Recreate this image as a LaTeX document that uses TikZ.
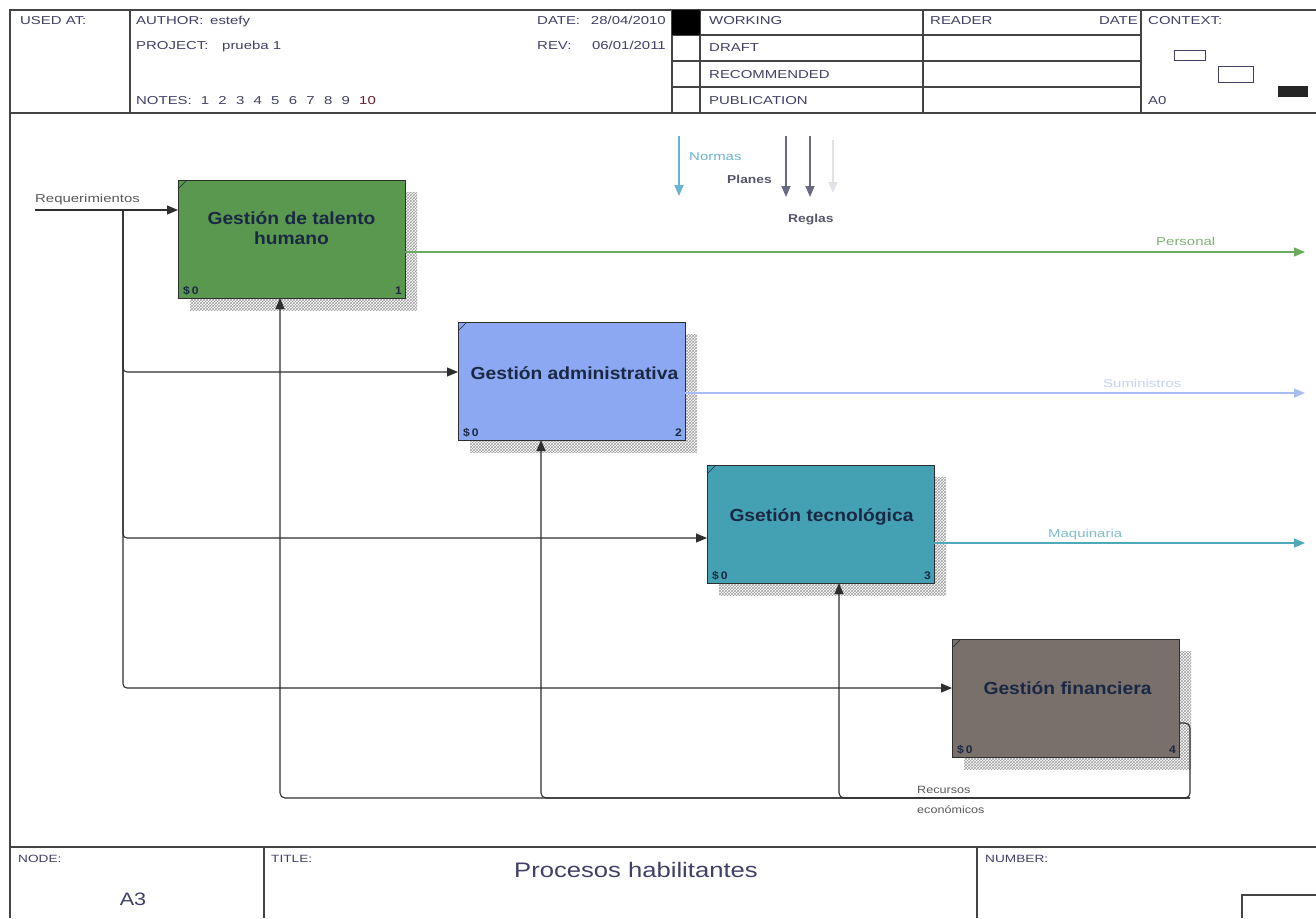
\documentclass[tikz,border=0pt]{standalone}
\usepackage{fontspec}
\usepackage{graphicx}
\setmainfont{Liberation Sans}
\usetikzlibrary{arrows.meta,patterns,shadows,calc}

\definecolor{framec}{HTML}{444444}
\definecolor{hdrc}{HTML}{403F66}
\definecolor{flowc}{HTML}{2E2E2E}
\definecolor{gbox}{HTML}{5A9850}
\definecolor{bbox}{HTML}{8DA8F2}
\definecolor{tbox}{HTML}{43A1B3}
\definecolor{mbox}{HTML}{79706B}
\definecolor{boxtxtc}{HTML}{1A2844}
\definecolor{persc}{HTML}{6AAA5E}
\definecolor{persl}{HTML}{7DB474}
\definecolor{sumc}{HTML}{A9BDF2}
\definecolor{suml}{HTML}{C6D2F4}
\definecolor{maqc}{HTML}{4EA9BA}
\definecolor{maql}{HTML}{7DBFCB}
\definecolor{normc}{HTML}{6AB4D2}
\definecolor{ctrlc}{HTML}{6A6A80}
\definecolor{ctrll}{HTML}{56566A}
\definecolor{faintc}{HTML}{E2E2E6}

% horizontally stretched text, as the sheet's fonts are set wide
\newcommand{\hst}[2][1.3]{\scalebox{#1}[1]{#2}}

\tikzset{
  frame/.style={draw=framec, line width=1.2pt},
  hdr/.style={font=\fontsize{11.5}{13}\selectfont, text=hdrc, inner sep=0pt, anchor=base west},
  ftr/.style={font=\fontsize{10.5}{12}\selectfont, text=hdrc, inner sep=0pt, anchor=base west},
  lbl/.style={font=\fontsize{11.5}{13}\selectfont, inner sep=0pt, anchor=base west},
  procbox/.style={draw=flowc, line width=0.9pt, anchor=north west, inner sep=0pt, outer sep=0pt,
    minimum width=227pt, minimum height=118pt,
    general shadow={shadow xshift=12pt, shadow yshift=-12pt, pattern=crosshatch, pattern color=gray!75}},
  boxtxt/.style={font=\fontsize{17.5}{20}\selectfont\bfseries, text=boxtxtc, inner sep=0pt, anchor=base},
  cost/.style={font=\fontsize{11}{12}\selectfont\bfseries, text=boxtxtc, inner sep=0pt, anchor=base west},
  boxnum/.style={font=\fontsize{11}{12}\selectfont\bfseries, text=boxtxtc, inner sep=0pt, anchor=base east},
  tip/.style={-{Triangle[length=11pt,width=9pt]}},
  flow/.style={tip, draw=flowc, line width=1.1pt},
  ctrl/.style={tip, line width=1.7pt},
}

\begin{document}
\begin{tikzpicture}[x=1pt, y=-1pt]
\useasboundingbox (0,0) rectangle (1316,918);

% ---------- sheet frame ----------
\draw[frame] (10,918) -- (10,10) -- (1316,10);
\draw[frame] (10,113) -- (1316,113);
\foreach \x in {130,672,700,923,1141} \draw[frame] (\x,10) -- (\x,113);
\foreach \y in {35,61,87} \draw[frame] (672,\y) -- (1141,\y);
\fill[black] (672,10) rectangle (700,35);
\draw[frame] (10,847) -- (1316,847);
\draw[frame] (264,847) -- (264,918);
\draw[frame] (977,847) -- (977,918);
\draw[frame] (1242,918) -- (1242,895) -- (1316,895);

% ---------- header texts ----------
\node[hdr] (usedat) at (20,24) {\hst{USED AT:}};
\node[hdr] (author) at (136,24) {\hst{AUTHOR:}};
\node[hdr] (authorv) at (210,24) {\hst{estefy}};
\node[hdr] (project) at (136,49) {\hst{PROJECT:}};
\node[hdr] (projectv) at (222,49) {\hst{prueba 1}};
\node[hdr] (notes) at (136,104) {\hst{NOTES:}};
\foreach \n [count=\i] in {1,2,3,4,5,6,7,8,9}
  \node[hdr] (note\n) at ({183+17.6*\i},104) {\hst{\n}};
\node[hdr, text=hdrc!60!red!70!black] (note10) at (359,104) {\hst{10}};
\node[hdr] (date) at (537,24) {\hst{DATE:}};
\node[hdr, anchor=base east] (datev) at (666,24) {\hst{28/04/2010}};
\node[hdr] (rev) at (537,49) {\hst{REV:}};
\node[hdr, anchor=base east] (revv) at (666,49) {\hst{06/01/2011}};
\node[hdr] (working) at (709,24) {\hst{WORKING}};
\node[hdr] (draft) at (709,51) {\hst{DRAFT}};
\node[hdr] (recommended) at (709,78) {\hst{RECOMMENDED}};
\node[hdr] (publication) at (709,104) {\hst{PUBLICATION}};
\node[hdr] (reader) at (930,24) {\hst{READER}};
\node[hdr, anchor=base east] (rdate) at (1138,24) {\hst{DATE}};
\node[hdr] (context) at (1148,24) {\hst{CONTEXT:}};
\node[hdr] (azero) at (1148,104) {\hst{A0}};
\draw[draw=hdrc, line width=1pt] (1174,50) rectangle (1205,60);
\draw[draw=hdrc, line width=1pt] (1218,66) rectangle (1253,82);
\fill[black!85] (1278,86) rectangle (1308,97);

% ---------- footer texts ----------
\node[ftr] (nodelbl) at (18,862) {\hst{NODE:}};
\node[font=\fontsize{18}{20}\selectfont, text=hdrc, inner sep=0pt, anchor=base] (nodev) at (133,905) {\hst[1.2]{A3}};
\node[ftr] (titlelbl) at (271,862) {\hst{TITLE:}};
\node[font=\fontsize{21}{24}\selectfont, text=hdrc, inner sep=0pt, anchor=base] (title) at (636,877) {\hst[1.22]{Procesos habilitantes}};
\node[ftr] (numberlbl) at (985,862) {\hst{NUMBER:}};

% ---------- activity boxes ----------
\node[procbox, fill=gbox] (b1) at (178,180) {};
\node[procbox, fill=bbox] (b2) at (458,322) {};
\node[procbox, fill=tbox] (b3) at (707,465) {};
\node[procbox, fill=mbox] (b4) at (952,639) {};

\foreach \b/\n in {b1/1,b2/2,b3/3,b4/4}{
  \draw[boxtxtc, line width=0.6pt] ($(\b.north west)+(1,8)$) -- ($(\b.north west)+(8,1)$);
  \node[cost] at ($(\b.south west)+(5,-4)$) {\hst[1.1]{\$\,0}};
  \node[boxnum] at ($(\b.south east)+(-3,-4)$) {\hst[1.1]{\n}};
}
\node[boxtxt] (t1a) at ($(b1.north)+(0,44)$) {\hst[1.1]{Gestión de talento}};
\node[boxtxt] (t1b) at ($(b1.north)+(0,64)$) {\hst[1.1]{humano}};
\node[boxtxt] (t2) at ($(b2.north)+(3,57)$) {\hst[1.1]{Gestión administrativa}};
\node[boxtxt] (t3) at ($(b3.north)+(1,56)$) {\hst[1.1]{Gsetión tecnológica}};
\node[boxtxt] (t4) at ($(b4.north)+(2,55)$) {\hst[1.1]{Gestión financiera}};

% ---------- inputs ----------
\coordinate (reqstart) at (35,210);
\coordinate (split) at (123,210);
\draw[flow] (reqstart) -- (reqstart -| b1.west);
\draw[flow, rounded corners=4pt] (split) |- ($(b2.north west)+(0,50)$);
\draw[flow, rounded corners=4pt] (split) |- ($(b3.north west)+(0,73)$);
\draw[flow, rounded corners=4pt] (split) |- ($(b4.north west)+(0,49)$);
\node[lbl, text=flowc!80] (reqlbl) at (35,202) {\hst{Requerimientos}};

% ---------- outputs ----------
\coordinate (redge) at (1305,0);
\coordinate (o1) at ($(b1.north east)+(0,72)$);
\coordinate (o2) at ($(b2.north east)+(0,71)$);
\coordinate (o3) at ($(b3.north east)+(0,78)$);
\draw[tip, draw=persc, line width=1.1pt] (o1) -- (o1 -| redge);
\draw[tip, draw=sumc, line width=1.1pt] (o2) -- (o2 -| redge);
\draw[tip, draw=maqc, line width=1.1pt] (o3) -- (o3 -| redge);
\node[lbl, text=persl] (perslbl) at (1156,245) {\hst{Personal}};
\node[lbl, text=suml] (sumlbl) at (1103,387) {\hst{Suministros}};
\node[lbl, text=maql] (maqlbl) at (1048,537) {\hst{Maquinaria}};

% ---------- feedback of economic resources ----------
\coordinate (o4) at ($(b4.north east)+(0,84)$);
\coordinate (loopR) at (1190,798);
\draw[flow, rounded corners=5pt] (o4) -| (loopR) -| ($(b1.south west)+(102,0)$);
\draw[flow, rounded corners=5pt] (loopR) -| ($(b2.south west)+(83,0)$);
\draw[flow, rounded corners=5pt] (loopR) -| ($(b3.south west)+(132,0)$);
\node[font=\fontsize{10.5}{12}\selectfont, text=flowc!80, inner sep=0pt, anchor=base west] (rec1) at (917,793) {\hst[1.2]{Recursos}};
\node[font=\fontsize{10.5}{12}\selectfont, text=flowc!80, inner sep=0pt, anchor=base west] (rec2) at (917,813) {\hst[1.2]{económicos}};

% ---------- controls ----------
\coordinate (c1s) at (679,136); \coordinate (c1e) at (679,196);
\coordinate (c2s) at (786,136); \coordinate (c2e) at (786,197);
\coordinate (c3s) at (810,136); \coordinate (c3e) at (810,197);
\coordinate (c4s) at (833,140); \coordinate (c4e) at (833,193);
\draw[ctrl, draw=normc] (c1s) -- (c1e);
\draw[ctrl, draw=ctrlc] (c2s) -- (c2e);
\draw[ctrl, draw=ctrlc] (c3s) -- (c3e);
\draw[ctrl, draw=faintc] (c4s) -- (c4e);
\node[lbl, text=normc] (normlbl) at (689,160) {\hst{Normas}};
\node[lbl, text=ctrll, font=\fontsize{11.5}{13}\selectfont\bfseries] (planlbl) at (727,183) {\hst[1.2]{Planes}};
\node[lbl, text=ctrll, font=\fontsize{11.5}{13}\selectfont\bfseries] (reglbl) at (788,222) {\hst[1.2]{Reglas}};
\end{tikzpicture}
\end{document}
